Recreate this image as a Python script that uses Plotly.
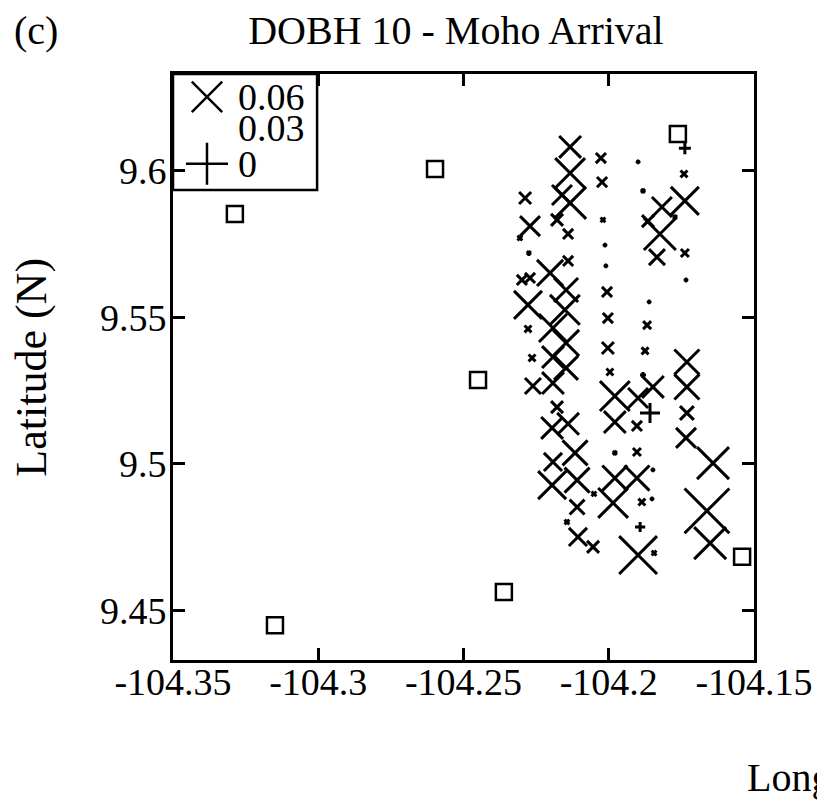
import plotly.graph_objects as go

# ---- data ----
ev_lon = [-104.2133, -104.2133, -104.2161, -104.2133, -104.2027, -104.2023, -104.2288, -104.2271,
          -104.2306, -104.2275, -104.2178, -104.2140, -104.2020, -104.2013, -104.2010, -104.2140,
          -104.2202, -104.2299, -104.2271, -104.2006, -104.1899, -104.1882, -104.1741, -104.1738,
          -104.1817, -104.1865, -104.1772, -104.1824, -104.1834, -104.1738, -104.1734, -104.2278,
          -104.2147, -104.2151, -104.2192, -104.2147, -104.2278, -104.2264, -104.2192, -104.2147,
          -104.2261, -104.2192, -104.2178, -104.2195, -104.2140, -104.2003, -104.2003, -104.1996,
          -104.1979, -104.1979, -104.1861, -104.1868, -104.1875, -104.1882, -104.1848, -104.1899,
          -104.1858, -104.1903, -104.1731, -104.1731, -104.1731, -104.1734, -104.1641, -104.1662,
          -104.1651, -104.1979, -104.1903, -104.1848, -104.1979, -104.1903, -104.1985, -104.1886,
          -104.1851, -104.1892, -104.1899, -104.1844, -104.2192, -104.2116, -104.2195, -104.2109,
          -104.2109, -104.2144, -104.2106, -104.2054, -104.2051, -104.1738]
ev_lat = [9.6081, 9.5992, 9.5917, 9.5890, 9.6043, 9.5961, 9.5907, 9.5811,
          9.5770, 9.5719, 9.5832, 9.5784, 9.5832, 9.5746, 9.5675, 9.5692,
          9.5651, 9.5627, 9.5634, 9.5586, 9.6030, 9.5931, 9.5989, 9.5897,
          9.5876, 9.5828, 9.5842, 9.5784, 9.5705, 9.5719, 9.5627, 9.5542,
          9.5593, 9.5525, 9.5463, 9.5412, 9.5460, 9.5361, 9.5364, 9.5327,
          9.5265, 9.5275, 9.5193, 9.5122, 9.5136, 9.5497, 9.5395, 9.5313,
          9.5231, 9.5142, 9.5552, 9.5473, 9.5385, 9.5303, 9.5262, 9.5224,
          9.5173, 9.5129, 9.5347, 9.5262, 9.5173, 9.5088, 9.5002, 9.4839,
          9.4729, 9.5037, 9.5040, 9.4979, 9.4951, 9.4951, 9.4866, 9.4869,
          9.4880, 9.4784, 9.4688, 9.4695, 9.5006, 9.5037, 9.4927, 9.4944,
          9.4852, 9.4801, 9.4750, 9.4716, 9.4897, 9.6077]
ev_val = [0.041, 0.056, 0.0375, 0.06, 0.019, 0.019, 0.0225, 0.0375,
          0.009, 0.0075, 0.0225, 0.019, 0.009, 0.006, 0.006, 0.019,
          0.049, 0.019, 0.019, 0.019, 0.006, 0.0075, 0.013, 0.0525,
          0.0375, 0.0225, 0.0075, 0.06, 0.03, 0.015, 0.006, 0.0525,
          0.045, 0.056, 0.0525, 0.049, 0.013, 0.013, 0.041, 0.045,
          0.03, 0.041, 0.0225, 0.041, 0.041, 0.019, 0.0225, 0.013,
          0.056, 0.041, 0.006, 0.015, 0.013, -0.011, 0.041, 0.0375,
          -0.0375, 0.019, 0.047, 0.047, 0.026, 0.0375, 0.06, 0.084,
          0.06, 0.0075, 0.015, 0.006, 0.047, 0.047, 0.056, 0.013,
          0.006, -0.019, 0.071, 0.009, 0.034, 0.047, 0.0525, 0.047,
          0.028, 0.009, 0.034, 0.0225, 0.009, -0.0225]

st_lon = [-104.3287, -104.2598, -104.2450, -104.2361, -104.3149, -104.1762, -104.1541]
st_lat = [9.5852, 9.6006, 9.5286, 9.4562, 9.4449, 9.6125, 9.4682]

legend_vals = [0.06, 0.03, 0]
legend_labels = ["0.06", "0.03", "0"]

x_ticks = [-104.35, -104.3, -104.25, -104.2, -104.15]
x_tick_text = ["-104.35", "-104.3", "-104.25", "-104.2", "-104.15"]
y_ticks = [9.45, 9.5, 9.55, 9.6]
y_tick_text = ["9.45", "9.5", "9.55", "9.6"]

FONT = "Liberation Serif"
REF_VAL = 0.06
REF_PX = 32.0


def xsize(v):
    return max(abs(v) / REF_VAL * REF_PX, 2.0)


def psize(v):
    return max(abs(v) / REF_VAL * REF_PX / 1.4, 2.0)


pos_i = [i for i, v in enumerate(ev_val) if v >= 0]
neg_i = [i for i, v in enumerate(ev_val) if v < 0]

fig = go.Figure()

fig.add_trace(go.Scatter(
    x=[ev_lon[i] for i in pos_i], y=[ev_lat[i] for i in pos_i], mode="markers",
    marker=dict(symbol="x-thin", size=[xsize(ev_val[i]) for i in pos_i], opacity=1,
                color="black", line=dict(color="black", width=3)),
    showlegend=False, hoverinfo="skip"))
fig.add_trace(go.Scatter(
    x=[ev_lon[i] for i in neg_i], y=[ev_lat[i] for i in neg_i], mode="markers",
    marker=dict(symbol="cross-thin", size=[psize(ev_val[i]) for i in neg_i], opacity=1,
                color="black", line=dict(color="black", width=3)),
    showlegend=False, hoverinfo="skip"))
fig.add_trace(go.Scatter(
    x=st_lon, y=st_lat, mode="markers",
    marker=dict(symbol="square-open", size=16, color="black", opacity=1, line=dict(width=2.5)),
    showlegend=False, hoverinfo="skip"))

# legend symbols on an overlay axis (0..1 paper-like)
fig.add_trace(go.Scatter(
    x=[0.0585], y=[0.961], xaxis="x2", yaxis="y2", mode="markers",
    marker=dict(symbol="x-thin", size=xsize(legend_vals[0]) * 0.95, color="black", opacity=1,
                line=dict(color="black", width=2.5)),
    showlegend=False, hoverinfo="skip"))
fig.add_trace(go.Scatter(
    x=[0.0585], y=[0.847], xaxis="x2", yaxis="y2", mode="markers",
    marker=dict(symbol="cross-thin", size=30, color="black", opacity=1,
                line=dict(color="black", width=2.5)),
    showlegend=False, hoverinfo="skip"))

ax_common = dict(showgrid=False, zeroline=False, ticks="inside", ticklen=12, tickwidth=2.5,
                 tickcolor="black", showline=True, linewidth=3, linecolor="black",
                 mirror="ticks", tickfont=dict(family=FONT, size=38, color="black"))

fig.update_layout(
    width=825, height=801,
    margin=dict(l=165, r=79, t=66, b=149),
    paper_bgcolor="white", plot_bgcolor="white",
    font=dict(family=FONT, color="black"),
    xaxis=dict(range=[-104.35, -104.15], tickvals=x_ticks, ticktext=x_tick_text,
               ticklabelstandoff=-14, **ax_common),
    yaxis=dict(range=[9.433, 9.633], tickvals=y_ticks, ticktext=y_tick_text,
               ticklabelstandoff=-4, **ax_common),
    xaxis2=dict(overlaying="x", range=[0, 1], visible=False),
    yaxis2=dict(overlaying="y", range=[0, 1], visible=False),
    title=dict(text="DOBH 10 - Moho Arrival", x=0.543, xanchor="center", y=0.9725,
               yanchor="middle", font=dict(family=FONT, size=40, color="black")),
    shapes=[dict(type="rect", xref="paper", yref="paper", x0=0, x1=0.248, y0=0.802, y1=1,
                 line=dict(color="black", width=2.5), fillcolor="white", layer="below")],
)

ann = [
    dict(text="(c)", x=-0.277, y=1.075, xanchor="left", size=40),
    dict(text="Latitude (N)", x=-0.245, y=0.5, xanchor="center", textangle=-90, size=44),
    dict(text="Longitude (W)", x=(745 - 173) / 581, y=-0.2, xanchor="left", size=40),
    dict(text=legend_labels[0], x=0.108, y=0.961, xanchor="left", size=38),
    dict(text=legend_labels[1], x=0.108, y=0.908, xanchor="left", size=38),
    dict(text=legend_labels[2], x=0.108, y=0.847, xanchor="left", size=38),
]
for a in ann:
    s = a.pop("size")
    fig.add_annotation(xref="paper", yref="paper", yanchor="middle", showarrow=False,
                       font=dict(family=FONT, size=s, color="black"), **a)

fig.write_html("out.html")
